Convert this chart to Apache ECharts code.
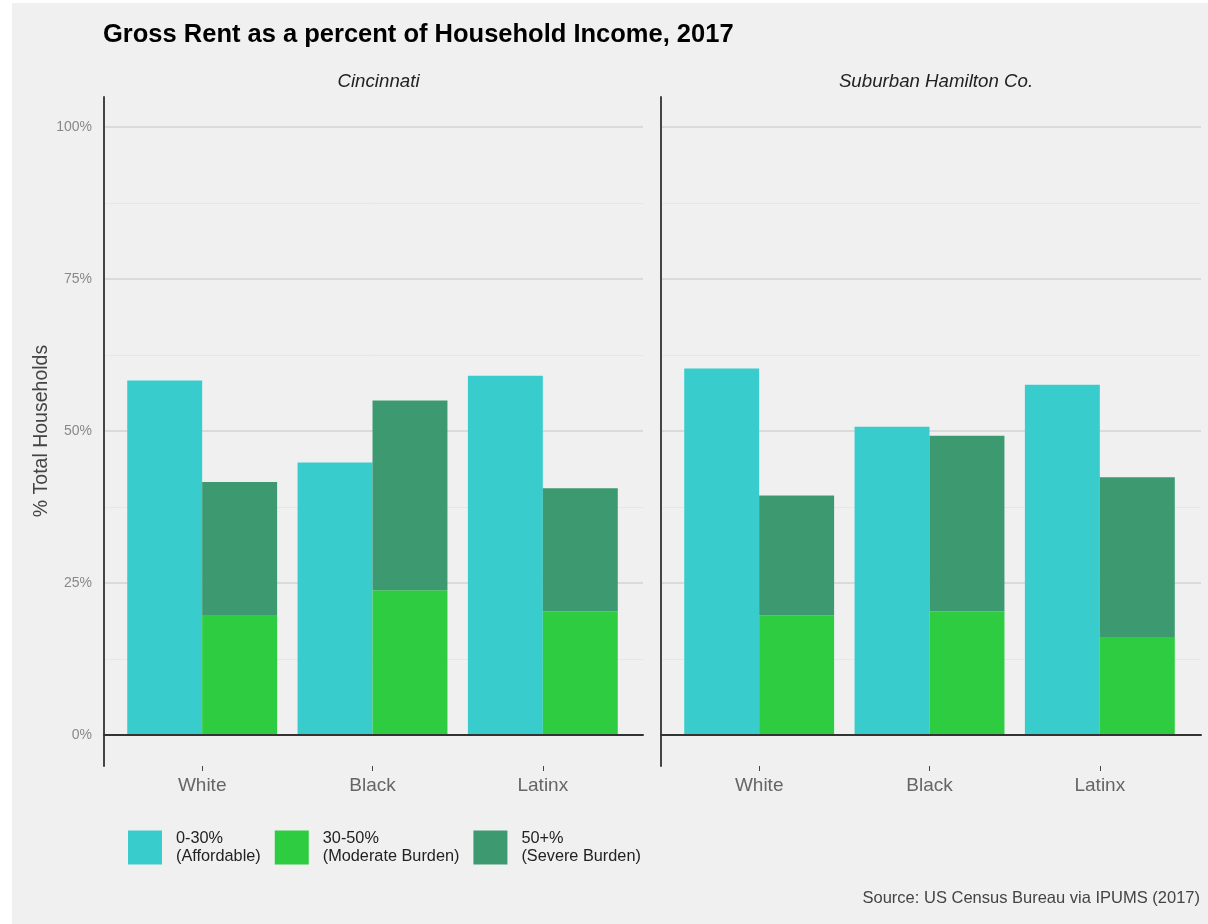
<!DOCTYPE html>
<html>
<head>
<meta charset="utf-8">
<script src="https://cdn.jsdelivr.net/npm/echarts@6/dist/echarts.min.js"></script>
<style>
  html, body { margin: 0; padding: 0; background: #ffffff; }
  #bg { position: absolute; left: 12px; top: 3px; width: 1196px; height: 921px; background: #f0f0f0; }
  #chart { position: absolute; left: 0; top: 0; width: 1208px; height: 924px; }
</style>
</head>
<body>
<div id="bg"></div>
<div id="chart"></div>
<script>
const categories = ['White', 'Black', 'Latinx'];
const seriesNames = ['0-30%\n(Affordable)', '30-50%\n(Moderate Burden)', '50+%\n(Severe Burden)'];
const panelNames = ['Cincinnati', 'Suburban Hamilton Co.'];
const cinAffordable = [58.3, 44.8, 59.1];
const cinModerate = [19.6, 23.8, 20.3];
const cinSevere = [22.0, 31.2, 20.3];
const subAffordable = [60.3, 50.7, 57.6];
const subModerate = [19.7, 20.3, 16.1];
const subSevere = [19.7, 28.9, 26.3];
const colors = ['#39CCCC', '#2ECC40', '#3D9970'];

const FONT = '"Liberation Sans", Arial, sans-serif';
const NARROW = '"Liberation Sans Narrow", "Liberation Sans", Arial, sans-serif';

const panels = [
  { frameLeft: 104, frameWidth: 539, barLeft: 117, showY: true, data: [cinAffordable, cinModerate, cinSevere] },
  { frameLeft: 661, frameWidth: 540, barLeft: 674, showY: false, data: [subAffordable, subModerate, subSevere] }
];

const grid = [], xAxis = [], yAxis = [], series = [];
panels.forEach((p, pi) => {
  const base = pi * 4;
  // frame grid (axis line spanning expanded range)
  grid.push({ left: p.frameLeft, width: p.frameWidth, top: 97, height: 669 });
  xAxis.push({ gridIndex: base, type: 'value', show: false, min: 0, max: 1 });
  yAxis.push({ gridIndex: base, type: 'value', min: 0, max: 1,
    axisLine: { show: true, lineStyle: { color: '#444', width: 2 } },
    axisTick: { show: false }, axisLabel: { show: false }, splitLine: { show: false } });
  // gridline grid
  grid.push({ left: p.frameLeft, width: p.frameWidth, top: 127, height: 608 });
  xAxis.push({ gridIndex: base + 1, type: 'value', min: 0, max: 1, z: 5,
    axisLine: { show: true, onZero: false, lineStyle: { color: '#333', width: 2 } },
    axisTick: { show: false }, axisLabel: { show: false }, splitLine: { show: false } });
  yAxis.push({ gridIndex: base + 1, type: 'value', min: 0, max: 100, interval: 25,
    name: p.showY ? '% Total Households' : '', nameLocation: 'middle', nameGap: 52,
    nameTextStyle: { color: '#444', fontSize: 19.5, fontFamily: FONT },
    axisLine: { show: false }, axisTick: { show: false },
    axisLabel: { show: p.showY, formatter: '{value}%', color: '#888', fontSize: 14, fontFamily: NARROW, margin: 12 },
    splitLine: { show: true, lineStyle: { color: '#d3d3d3', width: 1.6 } },
    minorTick: { show: false, splitNumber: 2 },
    minorSplitLine: { show: true, lineStyle: { color: '#e6e6e6', width: 1 } } });
  // bar grid
  grid.push({ left: p.barLeft, width: 511, top: 127, height: 608 });
  xAxis.push({ gridIndex: base + 2, type: 'category', data: categories, show: false });
  yAxis.push({ gridIndex: base + 2, type: 'value', min: 0, max: 100, show: false });
  // category tick/label grid (same horizontal band as bars, bottom at expanded panel edge)
  grid.push({ left: p.barLeft, width: 511, top: 97, height: 669 });
  xAxis.push({ gridIndex: base + 3, type: 'category', data: categories,
    axisLine: { show: false },
    axisTick: { show: true, alignWithLabel: true, length: 5, lineStyle: { color: '#444', width: 1 } },
    axisLabel: { color: '#666', fontSize: 19, fontFamily: FONT, margin: 10 } });
  yAxis.push({ gridIndex: base + 3, type: 'value', min: 0, max: 1, show: false });

  series.push({ name: seriesNames[0], type: 'bar', xAxisIndex: base + 2, yAxisIndex: base + 2,
    data: p.data[0], barWidth: '44%', barGap: 0, itemStyle: { color: colors[0] } });
  series.push({ name: seriesNames[1], type: 'bar', stack: 'burden' + pi, xAxisIndex: base + 2, yAxisIndex: base + 2,
    data: p.data[1], barWidth: '44%', barGap: 0, itemStyle: { color: colors[1] } });
  series.push({ name: seriesNames[2], type: 'bar', stack: 'burden' + pi, xAxisIndex: base + 2, yAxisIndex: base + 2,
    data: p.data[2], barWidth: '44%', barGap: 0, itemStyle: { color: colors[2] } });
});

const option = {
  backgroundColor: 'transparent',
  animation: false,
  title: [
    { text: 'Gross Rent as a percent of Household Income, 2017', left: 98, top: 17,
      textStyle: { fontSize: 25.5, fontWeight: 'bold', color: '#000', fontFamily: FONT } },
    { text: panelNames[0], left: 373.5, top: 67, textAlign: 'center',
      textStyle: { fontSize: 18.7, fontStyle: 'italic', fontWeight: 'normal', color: '#222', fontFamily: FONT } },
    { text: panelNames[1], left: 931, top: 67, textAlign: 'center',
      textStyle: { fontSize: 18.7, fontStyle: 'italic', fontWeight: 'normal', color: '#222', fontFamily: FONT } },
    { text: 'Source: US Census Bureau via IPUMS (2017)', right: 3, top: 885,
      textStyle: { fontSize: 16.5, fontWeight: 'normal', color: '#444', fontFamily: FONT } }
  ],
  legend: {
    data: seriesNames, left: 123, top: 823, orient: 'horizontal',
    itemWidth: 34, itemHeight: 34, itemGap: 14, icon: 'rect',
    textStyle: { fontSize: 16.3, color: '#222', fontFamily: FONT, lineHeight: 18, padding: [3, 0, 0, 9] }
  },
  grid, xAxis, yAxis, series
};

const chart = echarts.init(document.getElementById('chart'), null, { renderer: 'canvas' });
chart.setOption(option);
</script>
</body>
</html>
